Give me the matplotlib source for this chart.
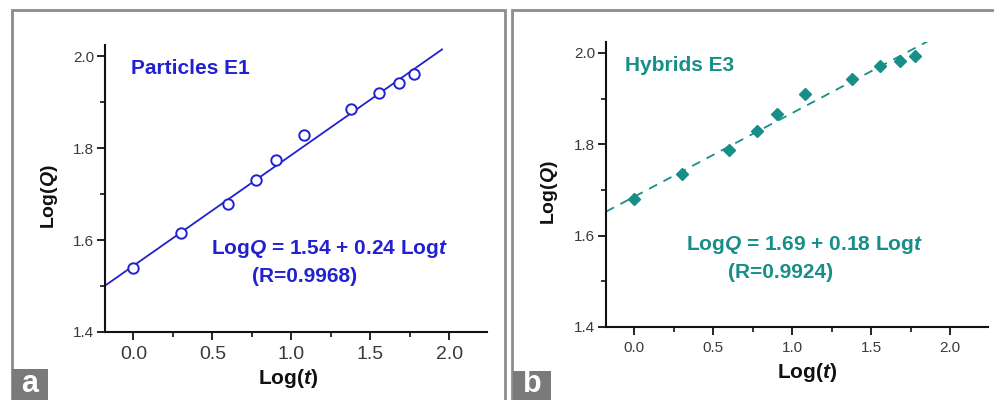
import matplotlib
matplotlib.use("Agg")
import matplotlib.pyplot as plt
from matplotlib.patches import Rectangle
from matplotlib.ticker import MultipleLocator
import numpy as np

plt.rcParams['font.family'] = ['Liberation Sans', 'DejaVu Sans']
plt.rcParams['mathtext.fontset'] = 'custom'
plt.rcParams['mathtext.rm'] = 'Liberation Sans:bold'
plt.rcParams['mathtext.it'] = 'Liberation Sans:bold:italic'
plt.rcParams['mathtext.bf'] = 'Liberation Sans:bold'

# Data
log_t = [0.0, 0.301, 0.602, 0.778, 0.903, 1.079, 1.380, 1.556, 1.681, 1.778]
logQ_particles = [1.539, 1.616, 1.678, 1.730, 1.775, 1.828, 1.884, 1.919, 1.941, 1.961]
logQ_hybrids = [1.680, 1.734, 1.787, 1.829, 1.867, 1.911, 1.942, 1.972, 1.983, 1.994]
fit_particles = [1.544, 0.2406]   # intercept, slope
fit_hybrids = [1.6855, 0.183]
fit_range_particles = [-0.18, 1.955]
fit_range_hybrids = [-0.18, 1.863]
x_ticks = [0.0, 0.5, 1.0, 1.5, 2.0]
y_ticks = [1.4, 1.6, 1.8, 2.0]

blue = '#2121D2'
teal = '#178F88'

W, H = 994, 400
fig = plt.figure(figsize=(W / 100, H / 100), dpi=100)

def px_axes(l, r, t, b):
    return fig.add_axes([l / W, (H - b) / H, (r - l) / W, (b - t) / H])

def style(ax, xfs):
    for s in ['top', 'right']:
        ax.spines[s].set_visible(False)
    for s in ['left', 'bottom']:
        ax.spines[s].set_linewidth(1.5)
        ax.spines[s].set_color('#111111')
    ax.set_xlim(-0.18, 2.24)
    ax.set_ylim(1.4, 2.024)
    ax.set_xticks(x_ticks)
    ax.set_yticks(y_ticks)
    ax.xaxis.set_minor_locator(MultipleLocator(0.25))
    ax.yaxis.set_minor_locator(MultipleLocator(0.1))
    ax.tick_params(which='major', direction='out', length=6, width=1.3, color='#111111')
    ax.tick_params(which='minor', direction='out', length=3.5, width=1.2, color='#111111')
    ax.tick_params(axis='y', labelsize=11, labelcolor='#3a3a3a', pad=2)
    ax.tick_params(axis='x', labelsize=xfs, labelcolor='#3a3a3a', pad=4)
    ax.set_yticklabels([f'{v:.1f}' for v in y_ticks])
    ax.set_xticklabels([f'{v:.1f}' for v in x_ticks])

# Panel a
ax1 = px_axes(105, 487, 45, 332)
style(ax1, 14)
xa = np.array(fit_range_particles)
ax1.plot(xa, fit_particles[0] + fit_particles[1] * xa, color=blue, lw=1.3)
ax1.plot(log_t, logQ_particles, 'o', mfc='white', mec=blue, mew=1.4, ms=7.5, ls='none')
ax1.text(0.068, 0.918, 'Particles E1', transform=ax1.transAxes, color=blue,
         fontsize=15, fontweight='bold', ha='left', va='center')
ax1.text(0.588, 0.289, r'Log$\mathit{Q}$ = 1.54 + 0.24 Log$\mathit{t}$', transform=ax1.transAxes,
         color=blue, fontsize=15, fontweight='bold', ha='center', va='center')
ax1.text(0.522, 0.195, '(R=0.9968)', transform=ax1.transAxes, color=blue,
         fontsize=15, fontweight='bold', ha='center', va='center')

# Panel b
ax2 = px_axes(606, 988, 42, 327)
style(ax2, 11)
xb = np.array(fit_range_hybrids)
ax2.plot(xb, fit_hybrids[0] + fit_hybrids[1] * xb, color=teal, lw=1.3, ls=(0, (5, 4)))
ax2.plot(log_t, logQ_hybrids, 'D', color=teal, ms=6.5, ls='none')
ax2.text(0.050, 0.918, 'Hybrids E3', transform=ax2.transAxes, color=teal,
         fontsize=15, fontweight='bold', ha='left', va='center')
ax2.text(0.520, 0.288, r'Log$\mathit{Q}$ = 1.69 + 0.18 Log$\mathit{t}$', transform=ax2.transAxes,
         color=teal, fontsize=15, fontweight='bold', ha='center', va='center')
ax2.text(0.456, 0.191, '(R=0.9924)', transform=ax2.transAxes, color=teal,
         fontsize=15, fontweight='bold', ha='center', va='center')

# Axis labels
for (x, y) in [(50, 197), (550, 193)]:
    fig.text(x / W, 1 - y / H, r'Log($\mathit{Q}$)', rotation=90, fontsize=14,
             fontweight='bold', ha='center', va='center', color='#111111')
for (x, y) in [(288, 378), (807, 373)]:
    fig.text(x / W, 1 - y / H, r'Log($\mathit{t}$)', fontsize=15,
             fontweight='bold', ha='center', va='center', color='#111111')

# Panel frames
frame_col = '#8c8c8c'
fig.add_artist(Rectangle((12 / W, -0.05), (505 - 12) / W, 1.05 - 10 / H,
                         transform=fig.transFigure, fill=False, ec=frame_col, lw=2))
fig.add_artist(Rectangle((512 / W, -0.05), (1010 - 512) / W, 1.05 - 10 / H,
                         transform=fig.transFigure, fill=False, ec=frame_col, lw=2))

# Panel letters
for (x0, x1, y0, letter) in [(12, 48, 369, 'a'), (513, 551, 371, 'b')]:
    fig.add_artist(Rectangle((x0 / W, 0), (x1 - x0) / W, (H - y0) / H,
                             transform=fig.transFigure, fc='#7a7a7a', ec='none'))
    fig.text((x0 + x1) / 2 / W, 0.003, letter, color='white', fontsize=22,
             fontweight='bold', ha='center', va='bottom')

fig.savefig('out.png', dpi=100)
